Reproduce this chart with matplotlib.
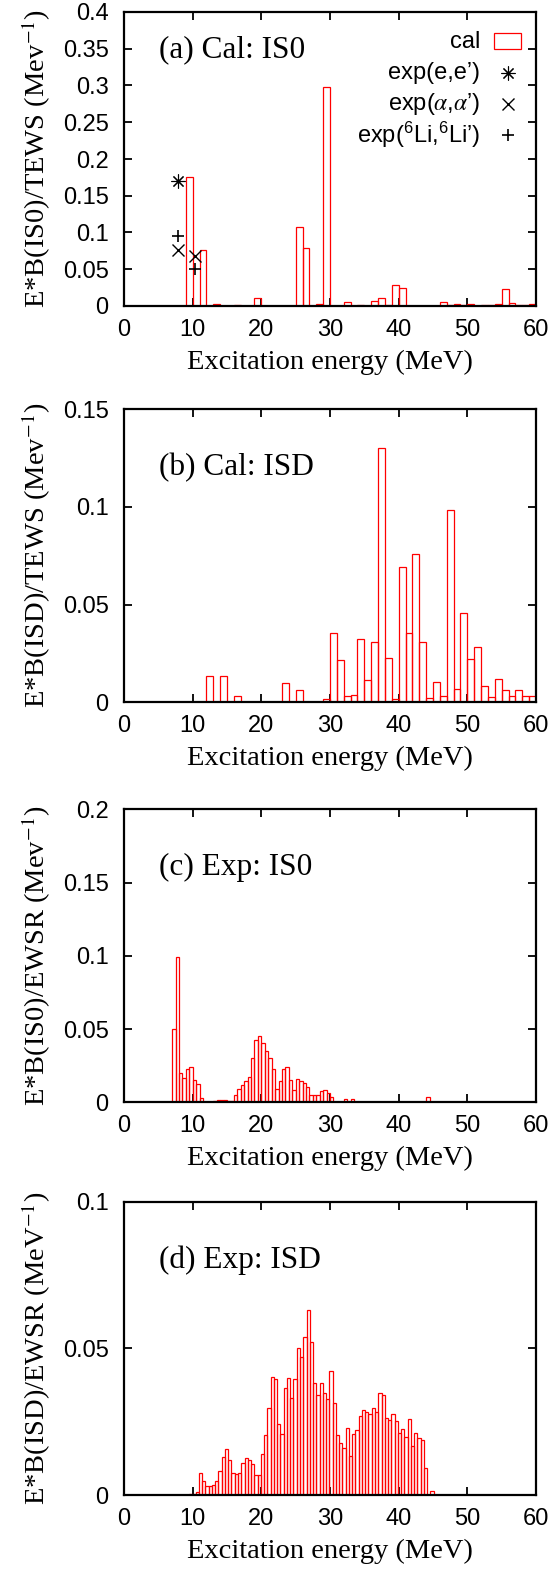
import numpy as np
import matplotlib
matplotlib.use("Agg")
import matplotlib.pyplot as plt
from matplotlib.patches import Rectangle
from matplotlib.ticker import FuncFormatter

plt.rcParams['mathtext.fontset'] = 'stix'
SANS = 'Liberation Sans'
SERIF = 'Liberation Serif'

# ---------------- data ----------------
# (a) calculated IS0 strength, 1 MeV bins (left edges)
a_energy = [9, 11, 13, 16, 19, 25, 26, 28, 29, 32, 34, 36, 37, 38, 39, 40,
            46, 47, 48, 49, 50, 52, 53, 54, 55, 56, 57, 58, 59]
a_value = [0.175, 0.0766, 0.0027, 0.0009, 0.0108, 0.108, 0.0785, 0.0025, 0.2975,
           0.006, 0.0009, 0.007, 0.011, 0.0009, 0.0292, 0.0248,
           0.005, 0.0009, 0.0027, 0.0018, 0.0023, 0.0009, 0.0009, 0.0023, 0.0225,
           0.0041, 0.0014, 0.0014, 0.0023]
a_bin_width = 1.0

# experimental points shown in (a)
exp_ee_E = [7.8]
exp_ee_val = [0.170]
exp_aa_E = [7.8, 10.4]
exp_aa_val = [0.076, 0.068]
exp_li_E = [7.8, 10.4]
exp_li_val = [0.095, 0.050]

# (b) calculated ISD strength, 1 MeV bins (left edges)
b_energy = [12, 14, 16, 20, 23, 25, 26, 27, 29, 30, 31, 32, 33, 34, 35, 36, 37, 38,
            39, 40, 41, 42, 43, 44, 45, 46, 47, 48, 49, 50, 51, 52, 53, 54, 55, 56,
            57, 58, 59]
b_value = [0.0133, 0.0133, 0.0031, 0.0003, 0.0097, 0.0065, 0.0003, 0.0003, 0.0015,
           0.0357, 0.0215, 0.0031, 0.0036, 0.0323, 0.0113, 0.0307, 0.130, 0.0229,
           0.0015, 0.0691, 0.0353, 0.0758, 0.0311, 0.002, 0.0102, 0.0031, 0.0983,
           0.0067, 0.0459, 0.022, 0.0285, 0.0082, 0.0026, 0.0118, 0.0061, 0.0032,
           0.0065, 0.0031, 0.0031]
b_bin_width = 1.0

# (c) experimental IS0, 0.5 MeV bins from 7 MeV
c_start = 7.0
c_bin_width = 0.5
c_value = [0.050, 0.099, 0.0203, 0.0164, 0.0225, 0.0243, 0.0152, 0.0127, 0.003, 0.0,
           0.0, 0.0003, 0.0007, 0.0014, 0.0018, 0.0018, 0.0009, 0.0009, 0.0048, 0.0089,
           0.0118, 0.0148, 0.0171, 0.030, 0.0425, 0.0455, 0.0403, 0.0353, 0.0305, 0.0228,
           0.0089, 0.0148, 0.0228, 0.0239, 0.0150, 0.0084, 0.0162, 0.0143, 0.013, 0.0102,
           0.0048, 0.0048, 0.0052, 0.0075, 0.0086, 0.0066, 0.0039, 0.0005, 0.0002, 0.0002,
           0.0022, 0.0002, 0.0025, 0.0, 0.0, 0.0, 0.0, 0.0, 0.0, 0.0,
           0.0, 0.0, 0.0, 0.0, 0.0, 0.0, 0.0, 0.0, 0.0, 0.0,
           0.0, 0.0, 0.0, 0.0, 0.0039]

# (d) experimental ISD
d_start = 8.53
d_bin_width = 0.475
d_value = [0.0001, 0.0001, 0.0002, 0.0003, 0.001,
           0.0074, 0.0047, 0.0030, 0.0032, 0.0033, 0.0047, 0.0083, 0.0131, 0.0157, 0.0118,
           0.0076, 0.0072, 0.0074, 0.0110, 0.0125, 0.0118, 0.0106, 0.0067, 0.0068, 0.0139,
           0.0205, 0.0295, 0.0403, 0.0397, 0.0241, 0.0208, 0.0366, 0.0400, 0.0332, 0.0394,
           0.0500, 0.0469, 0.0538, 0.0630, 0.0523, 0.0382, 0.0341,
           0.0382, 0.0349, 0.0326, 0.0423, 0.0313, 0.0203, 0.0178, 0.0161, 0.0228, 0.0133,
           0.0209, 0.0223, 0.0269, 0.0289, 0.0284, 0.0276, 0.0298, 0.0284, 0.0347, 0.0340,
           0.0263, 0.0255, 0.0277, 0.0251, 0.0211, 0.0224, 0.0197, 0.0258, 0.0168, 0.0213,
           0.0193, 0.0186, 0.0093, 0.0, 0.0013]

x_ticks = [0, 10, 20, 30, 40, 50, 60]

panels = [
    dict(E=a_energy, V=a_value, w=a_bin_width, ymax=0.4, ystep=0.05,
         ylabel=r'E*B(IS0)/TEWS (Mev$^{-1}$)', title='(a) Cal: IS0', ty=0.871),
    dict(E=b_energy, V=b_value, w=b_bin_width, ymax=0.15, ystep=0.05,
         ylabel=r'E*B(ISD)/TEWS (Mev$^{-1}$)', title='(b) Cal: ISD', ty=0.80),
    dict(E=c_start + c_bin_width * np.arange(len(c_value)), V=c_value, w=c_bin_width,
         ymax=0.2, ystep=0.05,
         ylabel=r'E*B(IS0)/EWSR (Mev$^{-1}$)', title='(c) Exp: IS0', ty=0.80),
    dict(E=d_start + d_bin_width * np.arange(len(d_value)), V=d_value, w=d_bin_width,
         ymax=0.1, ystep=0.05,
         ylabel=r'E*B(ISD)/EWSR (MeV$^{-1}$)', title='(d) Exp: ISD', ty=0.80),
]

# ---------------- layout (pixels) ----------------
W, H = 554, 1572
fig = plt.figure(figsize=(W / 100, H / 100), dpi=100)
left_px, right_px = 124, 536
boxes = [(12, 306), (409.3, 702.3), (809.3, 1102.3), (1201.7, 1495)]

RED = '#ff0000'
ASTERISK = (8, 2, 0)
axes = []
for p, (top, bot) in zip(panels, boxes):
    ax = fig.add_axes([left_px / W, 1 - bot / H, (right_px - left_px) / W, (bot - top) / H])
    axes.append(ax)
    ax.bar(p['E'], p['V'], width=p['w'], align='edge', fill=False,
           edgecolor=RED, linewidth=0.9, zorder=2)
    ax.set_xlim(0, 60)
    ax.set_ylim(0, p['ymax'])
    ax.set_xticks(x_ticks)
    ax.set_yticks(np.arange(0, p['ymax'] + 1e-9, p['ystep']))
    ax.yaxis.set_major_formatter(FuncFormatter(lambda v, _: f'{v:g}'))
    ax.tick_params(direction='in', top=True, right=True, length=6, width=1.3,
                   labelsize=17)
    ax.tick_params(axis='x', pad=9.5)
    ax.tick_params(axis='y', pad=11)
    for lab in ax.get_xticklabels() + ax.get_yticklabels():
        lab.set_fontfamily(SANS)
    for s in ax.spines.values():
        s.set_linewidth(1.6)
        s.set_zorder(5)
    ax.set_xlabel('Excitation energy (MeV)', fontfamily=SERIF, fontsize=20.5, labelpad=6)
    ax.set_ylabel(p['ylabel'], fontfamily=SERIF, fontsize=20.5)
    ax.yaxis.set_label_coords(-0.172, 0.5)
    ax.text(0.085, p['ty'], p['title'], transform=ax.transAxes, fontfamily=SERIF,
            fontsize=22.5, ha='left', va='center')

# experimental markers and legend in panel (a)
ax = axes[0]
ax.plot(exp_ee_E, exp_ee_val, linestyle='none', marker=ASTERISK, markersize=10,
        markeredgewidth=0.8, color='black', zorder=4)
ax.plot(exp_aa_E, exp_aa_val, linestyle='none', marker='x', markersize=8,
        markeredgewidth=1.0, color='black', zorder=4)
ax.plot(exp_li_E, exp_li_val, linestyle='none', marker='+', markersize=9,
        markeredgewidth=1.2, color='black', zorder=4)

leg_rows = [0.898, 0.793, 0.687, 0.582]
leg_labels = ['cal', 'exp(e,e\u2019)', 'exp($\\alpha$,$\\alpha$\u2019)',
              'exp($\\mathregular{^6}$Li,$\\mathregular{^6}$Li\u2019)']
for yrow, lab in zip(leg_rows, leg_labels):
    ax.text(0.864, yrow, lab, transform=ax.transAxes, ha='right', va='center',
            fontfamily=SANS, fontsize=17)
ax.add_patch(Rectangle((0.898, 0.874), 0.066, 0.055, transform=ax.transAxes,
                       fill=False, edgecolor=RED, linewidth=0.9, zorder=4))
ax.plot([0.932], [leg_rows[1]], transform=ax.transAxes, linestyle='none',
        marker=ASTERISK, markersize=10, markeredgewidth=0.8, color='black')
ax.plot([0.932], [leg_rows[2]], transform=ax.transAxes, linestyle='none',
        marker='x', markersize=8, markeredgewidth=1.0, color='black')
ax.plot([0.932], [leg_rows[3]], transform=ax.transAxes, linestyle='none',
        marker='+', markersize=9, markeredgewidth=1.2, color='black')

fig.savefig('out.png', dpi=100)
